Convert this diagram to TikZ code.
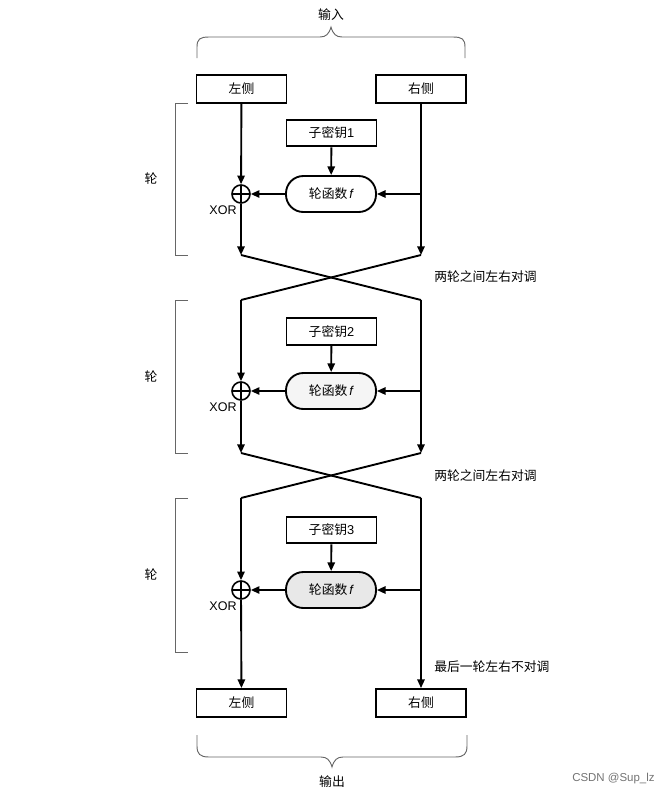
\documentclass[tikz,border=0pt]{standalone}
\usepackage{fontspec}
\setmainfont{Liberation Sans}
\newfontfamily\cjk{Noto Sans CJK SC}
\usetikzlibrary{arrows.meta}
\tikzset{
  txt/.style={font=\cjk\fontsize{9.6}{11}\selectfont},
  sidebox/.style={draw, line width=1.4pt, minimum width=67.5pt, minimum height=21pt, inner sep=0pt, txt},
  keybox/.style={sidebox, minimum height=20pt},
  roundfn/.style={draw, line width=1.4pt, rounded corners=13pt, minimum width=67.5pt, minimum height=27pt, inner sep=0pt, txt},
  xorc/.style={draw, circle, line width=1.2pt, minimum size=13.5pt, inner sep=0pt,
    path picture={\draw[line width=1.2pt] (path picture bounding box.north) -- (path picture bounding box.south)
      (path picture bounding box.west) -- (path picture bounding box.east);}},
  flow/.style={line width=1.4pt, -{Triangle[length=6.5pt,width=5.5pt]}},
  wire/.style={line width=1.4pt},
  bracket/.style={draw=black!60, line width=0.6pt},
  brace/.style={draw=black!60, line width=0.7pt},
  note/.style={txt, anchor=west, inner sep=0pt},
  xorlbl/.style={font=\fontsize{9.4}{11}\selectfont, inner sep=0pt},
}
\begin{document}
\begin{tikzpicture}[x=0.75pt, y=-0.75pt]
\useasboundingbox (0,0) rectangle (665,794);

% input / output halves
\node[sidebox] (L)  at (241.5, 89) {左侧};
\node[sidebox] (R)  at (421, 89) {右侧};
\node[sidebox] (OL) at (241.5, 703) {左侧};
\node[sidebox] (OR) at (421, 703) {右侧};

% braces with their captions
\draw[brace] (197,58) -- (197,47) .. controls (197,39) and (200,37) .. (209,37)
  -- (320,37) .. controls (326,37) and (329,34) .. (331,27)
  .. controls (333,34) and (336,37) .. (342,37) -- (453,37)
  .. controls (462,37) and (465,39) .. (465,47) -- (465,58);
\node[txt] (in) at (331,15) {输入};
\draw[brace] (197,735) -- (197,746) .. controls (197,754) and (200,757) .. (209,757)
  -- (321,757) .. controls (327,757) and (330,760) .. (332,767)
  .. controls (334,760) and (337,757) .. (343,757) -- (455,757)
  .. controls (464,757) and (467,754) .. (467,746) -- (467,735);
\node[txt] (out) at (332,782) {输出};

% three Feistel rounds
\foreach \i/\ky/\fy/\bt/\bb/\fc in {1/133/194/103/255/white, 2/331.5/391/300/453/gray!8, 3/530/590/498/652/gray!18}{
  \node[keybox] (key\i) at (331.5,\ky) {子密钥\rmfamily\i};
  \node[roundfn, fill=\fc] (f\i) at (331,\fy) {轮函数\,{\rmfamily\itshape f}};
  \node[xorc] (x\i) at (241,\fy) {};
  \node[xorlbl] (xl\i) at (223,\fy+16) {XOR};
  \coordinate (t\i) at (421,\fy);
  \coordinate (lt\i) at (241,\bt);
  \coordinate (rt\i) at (421,\bt);
  \coordinate (lb\i) at (241,\bb);
  \coordinate (rb\i) at (421,\bb);
  \draw[bracket] (188,\bt) -- (175,\bt) -- (175,\bb) -- (188,\bb);
  \node[txt] (rl\i) at (151,{(\bt+\bb)/2}) {轮};
  \draw[flow] (key\i) -- (f\i);
  \draw[flow] (t\i) -- (f\i.east);
  \draw[flow] (f\i) -- (x\i);
}

% round 1 inputs
\draw[flow] (L) -- (x1);
\draw[flow] (R) -- (rb1);
\draw[flow] (x1) -- (lb1);
% swap after round 1
\draw[wire] (lb1) -- (rt2);
\draw[wire] (rb1) -- (lt2);
\draw[flow] (lt2) -- (x2);
\draw[flow] (rt2) -- (rb2);
\draw[flow] (x2) -- (lb2);
% swap after round 2
\draw[wire] (lb2) -- (rt3);
\draw[wire] (rb2) -- (lt3);
\draw[flow] (lt3) -- (x3);
% last round: no swap
\draw[flow] (x3) -- (OL);
\draw[flow] (rt3) -- (OR);

\node[note] (s1) at (434,277) {两轮之间左右对调};
\node[note] (s2) at (434,476) {两轮之间左右对调};
\node[note] (s3) at (434,667) {最后一轮左右不对调};

\node[font=\fontsize{8.6}{10}\selectfont, text=black!55, anchor=west, inner sep=0pt] (wm) at (572,779) {CSDN @Sup\_lz};
\end{tikzpicture}
\end{document}
